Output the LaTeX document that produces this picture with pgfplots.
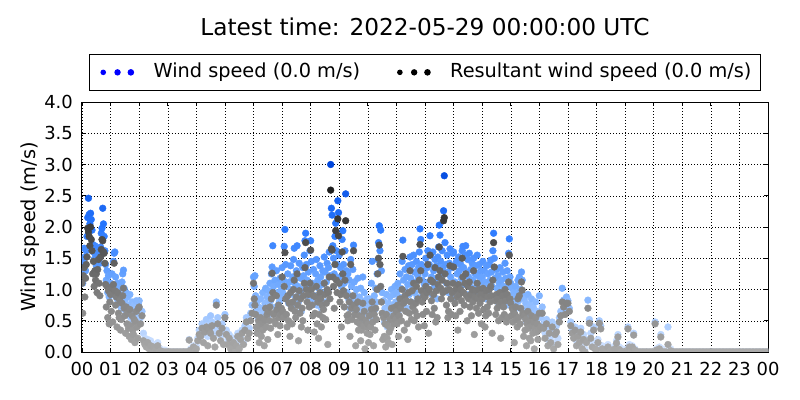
\documentclass[border=0pt]{standalone}
\usepackage{fontspec}
\setmainfont{DejaVu Sans}
\usepackage{pgfplots}
\usepackage{pgfplotstable}
\pgfplotsset{compat=1.18}
\pgfplotsset{
  colormap={wsblue}{rgb255=(215,230,255) rgb255=(120,175,255) rgb255=(40,120,255) rgb255=(0,70,220)},
  colormap={rwsgray}{rgb255=(170,170,170) rgb255=(122,122,122) rgb255=(62,62,62) rgb255=(10,10,10)},
}
\pgfplotstableread{
t ws rws
0.000 1.28 1.10
0.025 1.10 0.62
0.050 1.45 1.22
0.075 1.66 1.35
0.100 1.52 0.88
0.125 1.30 1.18
0.150 1.62 1.40
0.175 1.85 1.52
0.200 2.15 1.98
0.225 2.46 1.92
0.250 2.20 1.85
0.275 2.05 1.70
0.300 2.22 2.00
0.325 2.12 1.80
0.350 1.95 1.62
0.375 1.72 1.25
0.400 1.60 1.45
0.425 1.48 1.05
0.450 1.70 1.30
0.475 1.55 1.15
0.500 1.38 1.25
0.525 1.58 0.95
0.550 1.45 1.32
0.575 1.62 1.48
0.600 1.50 1.10
0.625 1.42 0.90
0.650 1.68 1.52
0.675 1.90 1.64
0.700 1.98 1.80
0.725 2.30 1.78
0.750 2.05 1.60
0.775 1.85 1.58
0.800 1.62 1.42
0.825 1.40 1.08
0.850 1.15 0.72
0.875 1.30 1.05
0.900 0.95 0.55
0.925 1.22 0.98
0.950 0.88 0.45
0.975 1.05 0.80
1.000 1.10 0.92
1.025 0.92 0.65
1.050 1.25 1.02
1.075 1.05 0.48
1.100 1.45 1.08
1.125 1.58 1.42
1.150 1.60 0.98
1.175 1.20 0.75
1.200 1.02 0.88
1.225 0.85 0.40
1.250 1.10 0.95
1.275 0.95 0.62
1.300 0.78 0.55
1.325 1.05 0.82
1.350 0.90 0.35
1.375 0.70 0.52
1.400 1.12 0.78
1.425 1.25 0.90
1.450 1.31 1.02
1.475 1.02 0.70
1.500 0.82 0.58
1.525 0.66 0.30
1.550 0.95 0.72
1.575 0.75 0.45
1.600 0.88 0.62
1.625 0.60 0.38
1.650 0.72 0.25
1.675 0.92 0.68
1.700 0.55 0.42
1.725 0.68 0.20
1.750 0.80 0.58
1.775 0.62 0.35
1.800 0.50 0.28
1.825 0.75 0.52
1.850 0.58 0.15
1.875 0.70 0.48
1.900 0.82 0.65
1.925 0.60 0.40
1.950 0.45 0.22
1.975 0.78 0.70
2.00 0.82 0.72
2.05 0.55 0.45
2.10 0.65 0.58
2.15 0.30 0.18
2.20 0.22 0.12
2.25 0.15 0.08
2.30 0.20 0.15
2.35 0.10 0.05
2.40 0.18 0.10
2.45 0.05 0.00
2.50 0.12 0.08
2.55 0.00 0.00
2.60 0.08 0.05
2.65 0.15 0.10
2.70 0.00 0.00
2.75 0.05 0.02
2.80 0.00 0.00
2.85 0.00 0.00
2.90 0.03 0.00
2.95 0.00 0.00
3.00 0.00 0.00
3.05 0.00 0.00
3.10 0.00 0.00
3.15 0.00 0.00
3.20 0.00 0.00
3.25 0.00 0.00
3.30 0.00 0.00
3.35 0.00 0.00
3.40 0.00 0.00
3.45 0.00 0.00
3.50 0.00 0.00
3.55 0.00 0.00
3.60 0.00 0.00
3.65 0.00 0.00
3.70 0.00 0.00
3.75 0.20 0.19
3.80 0.05 0.03
3.85 0.00 0.00
3.90 0.10 0.08
3.95 0.00 0.00
4.00 0.10 0.05
4.05 0.22 0.18
4.10 0.35 0.28
4.15 0.30 0.25
4.20 0.45 0.38
4.25 0.28 0.15
4.30 0.38 0.32
4.35 0.52 0.40
4.40 0.25 0.10
4.45 0.42 0.35
4.50 0.58 0.30
4.55 0.48 0.42
4.60 0.35 0.22
4.65 0.30 0.08
4.70 0.80 0.75
4.75 0.55 0.45
4.80 0.40 0.30
4.85 0.25 0.18
4.90 0.45 0.38
4.95 0.32 0.12
5.00 0.60 0.55
5.05 0.35 0.28
5.10 0.20 0.12
5.15 0.28 0.22
5.20 0.15 0.05
5.25 0.10 0.08
5.30 0.22 0.15
5.35 0.05 0.00
5.40 0.18 0.10
5.45 0.30 0.25
5.50 0.12 0.05
5.55 0.25 0.20
5.60 0.35 0.30
5.65 0.15 0.12
5.70 0.42 0.35
5.75 0.55 0.48
5.80 0.50 0.22
5.85 0.38 0.30
5.90 0.62 0.50
5.95 0.75 0.62
6.000 1.20 1.10
6.025 1.05 0.85
6.050 1.22 0.75
6.075 0.90 0.60
6.100 0.65 0.40
6.125 0.80 0.30
6.150 0.55 0.38
6.175 0.72 0.50
6.200 0.48 0.15
6.225 0.60 0.42
6.250 0.85 0.55
6.275 0.42 0.25
6.300 0.70 0.45
6.325 0.95 0.35
6.350 0.62 0.48
6.375 0.50 0.10
6.400 0.78 0.52
6.425 1.02 0.70
6.450 0.68 0.40
6.475 0.88 0.60
6.500 0.55 0.20
6.525 0.98 0.65
6.550 0.75 0.50
6.575 1.10 0.72
6.600 0.82 0.38
6.625 1.25 0.85
6.650 1.36 1.26
6.675 1.70 0.95
6.700 1.05 0.60
6.725 0.90 0.62
6.750 1.15 0.50
6.775 0.72 0.45
6.800 1.30 0.90
6.825 0.95 0.68
6.850 0.60 0.28
6.875 1.08 0.75
6.900 0.80 0.55
6.925 1.18 0.42
6.950 0.88 0.60
6.975 1.00 0.70
7.000 1.35 1.20
7.025 0.95 0.65
7.050 1.15 0.55
7.075 1.69 1.05
7.100 1.96 1.59
7.125 1.40 0.85
7.150 0.85 0.60
7.175 1.05 0.40
7.200 1.25 0.90
7.225 0.78 0.50
7.250 1.12 0.78
7.275 0.92 0.25
7.300 1.38 0.95
7.325 1.00 0.70
7.350 0.72 0.45
7.375 1.20 0.80
7.400 1.48 1.00
7.425 1.66 1.15
7.450 1.10 0.65
7.475 0.88 0.55
7.500 1.30 0.88
7.525 1.70 1.25
7.550 1.05 0.75
7.575 0.80 0.18
7.600 1.42 0.98
7.625 0.95 0.62
7.650 1.18 0.85
7.675 0.65 0.40
7.700 1.00 0.70
7.725 1.35 0.50
7.750 1.22 0.90
7.775 1.55 1.10
7.800 1.78 1.35
7.825 1.90 1.75
7.850 1.40 1.00
7.875 1.15 0.80
7.900 0.90 0.35
7.925 1.28 0.92
7.950 1.05 0.72
7.975 1.62 1.10
8.000 1.78 1.63
8.025 1.45 1.00
8.050 1.10 0.75
8.075 0.85 0.58
8.100 1.32 0.90
8.125 1.05 0.32
8.150 0.90 0.62
8.175 1.25 0.88
8.200 1.48 1.05
8.225 0.75 0.45
8.250 1.15 0.80
8.275 1.02 0.22
8.300 0.88 0.60
8.325 1.38 0.95
8.350 1.20 0.85
8.375 0.70 0.40
8.400 1.08 0.75
8.425 1.30 0.55
8.450 0.95 0.68
8.475 1.52 1.10
8.500 1.28 0.92
8.525 0.80 0.52
8.550 1.12 0.78
8.575 1.42 1.00
8.600 0.98 0.12
8.625 1.35 0.95
8.650 1.60 1.20
8.675 1.22 0.85
8.700 3.00 2.59
8.725 2.30 1.65
8.750 2.19 1.63
8.775 1.70 1.20
8.800 1.50 1.05
8.825 1.25 0.70
8.850 1.85 1.40
8.875 2.06 1.94
8.900 1.62 1.15
8.925 1.40 0.95
8.950 2.42 2.13
8.975 2.23 1.86
9.000 1.55 1.10
9.025 1.20 0.80
9.050 1.35 0.92
9.075 1.05 0.40
9.100 1.80 1.60
9.125 1.94 1.25
9.150 1.40 0.98
9.175 1.10 0.72
9.200 1.62 1.15
9.225 2.53 2.10
9.250 1.30 0.90
9.275 0.95 0.58
9.300 1.25 0.50
9.325 0.85 0.60
9.350 1.15 0.80
9.375 0.70 0.25
9.400 1.48 1.40
9.425 1.05 0.70
9.450 0.80 0.52
9.475 1.32 0.90
9.500 1.71 1.62
9.525 1.12 0.75
9.550 0.90 0.60
9.575 0.65 0.10
9.600 1.00 0.68
9.625 0.75 0.48
9.650 1.18 0.80
9.675 0.60 0.35
9.700 0.88 0.58
9.725 0.72 0.45
9.750 1.02 0.18
9.775 0.55 0.35
9.800 0.82 0.55
9.825 1.20 0.78
9.850 0.68 0.42
9.875 0.95 0.65
9.900 0.50 0.05
9.925 0.78 0.50
9.950 0.62 0.40
9.975 0.85 0.30
10.000 0.70 0.45
10.025 0.55 0.15
10.050 0.85 0.58
10.075 0.45 0.28
10.100 0.62 0.40
10.125 1.10 0.68
10.150 1.45 0.80
10.175 0.75 0.48
10.200 0.52 0.10
10.225 0.90 0.60
10.250 0.68 0.35
10.275 1.02 0.70
10.300 0.80 0.52
10.325 1.25 1.00
10.350 1.48 1.25
10.375 1.75 1.50
10.400 2.02 1.71
10.425 1.62 1.40
10.450 1.95 1.05
10.475 1.30 0.80
10.500 0.95 0.62
10.525 0.60 0.20
10.550 0.82 0.55
10.575 0.48 0.25
10.600 0.70 0.45
10.625 0.58 0.08
10.650 0.92 0.60
10.675 0.40 0.22
10.700 0.65 0.42
10.725 0.78 0.15
10.750 0.50 0.32
10.775 0.88 0.52
10.800 0.62 0.38
10.825 1.00 0.70
10.850 0.55 0.12
10.875 0.75 0.50
10.900 0.92 0.58
10.925 0.68 0.45
10.950 1.05 0.72
10.975 0.80 0.52
11.000 0.95 0.65
11.025 0.72 0.45
11.050 1.10 0.75
11.075 0.60 0.25
11.100 0.88 0.58
11.125 1.25 0.85
11.150 1.02 0.70
11.175 0.78 0.50
11.200 1.45 1.00
11.225 1.79 1.53
11.250 1.15 0.78
11.275 0.85 0.35
11.300 1.32 0.90
11.325 0.98 0.65
11.350 1.20 0.82
11.375 0.70 0.45
11.400 1.08 0.20
11.425 1.38 0.95
11.450 0.92 0.62
11.475 1.52 1.30
11.500 1.18 0.80
11.525 0.80 0.52
11.550 1.40 0.98
11.575 1.05 0.72
11.600 1.55 1.10
11.625 1.28 0.50
11.650 0.95 0.65
11.675 1.12 0.78
11.700 1.45 1.05
11.725 0.88 0.58
11.750 1.22 0.85
11.775 1.35 0.40
11.800 1.60 1.15
11.825 1.97 1.72
11.850 1.80 1.30
11.875 1.40 0.98
11.900 1.15 0.80
11.925 0.90 0.60
11.950 1.30 0.90
11.975 1.08 0.42
12.000 1.25 0.88
12.025 1.50 1.05
12.050 0.98 0.65
12.075 1.35 0.95
12.100 1.62 1.40
12.125 1.12 0.30
12.150 1.40 1.00
12.175 1.86 1.55
12.200 1.55 1.15
12.225 1.20 0.82
12.250 0.92 0.60
12.275 1.60 1.12
12.300 1.30 0.92
12.325 1.05 0.70
12.350 1.48 1.35
12.375 1.18 0.48
12.400 1.38 0.98
12.425 0.85 0.55
12.450 1.52 1.08
12.475 1.68 1.20
12.500 2.03 1.68
12.525 1.87 1.30
12.550 1.45 1.02
12.575 1.22 0.85
12.600 1.62 1.15
12.625 1.35 0.95
12.650 2.26 2.10
12.675 2.82 2.15
12.700 1.75 1.25
12.725 1.40 0.98
12.750 1.10 0.75
12.775 1.55 1.10
12.800 1.28 0.55
12.825 0.95 0.65
12.850 1.42 1.00
12.875 1.65 1.38
12.900 1.20 0.85
12.925 0.90 0.60
12.950 1.35 0.95
12.975 1.58 1.10
13.000 1.60 1.36
13.025 1.38 0.98
13.050 1.12 0.78
13.075 0.88 0.58
13.100 1.45 1.02
13.125 1.25 0.88
13.150 1.02 0.35
13.175 1.52 1.08
13.200 1.30 0.92
13.225 0.95 0.65
13.250 1.40 1.00
13.275 1.18 0.82
13.300 1.62 1.50
13.325 1.69 1.20
13.350 1.35 0.95
13.375 1.08 0.75
13.400 1.55 1.10
13.425 1.70 1.25
13.450 1.28 0.90
13.475 0.92 0.50
13.500 1.48 1.05
13.525 1.20 0.85
13.550 1.58 1.12
13.575 1.05 0.72
13.600 1.32 0.92
13.625 0.85 0.58
13.650 1.42 1.00
13.675 1.15 0.80
13.700 1.50 1.30
13.725 0.98 0.28
13.750 1.25 0.88
13.775 1.38 0.98
13.800 1.05 0.70
13.825 1.55 1.10
13.850 1.22 0.85
13.875 0.90 0.62
13.900 1.40 1.00
13.925 1.12 0.78
13.950 1.30 0.92
13.975 1.00 0.45
14.000 1.20 0.85
14.025 1.45 1.02
14.050 0.98 0.68
14.075 1.30 0.92
14.100 1.12 0.40
14.125 0.85 0.58
14.150 1.38 0.98
14.175 1.05 0.72
14.200 1.25 0.88
14.225 0.92 0.62
14.250 1.40 1.00
14.275 1.15 0.80
14.300 1.47 1.05
14.325 1.28 0.90
14.350 1.05 0.30
14.375 1.62 1.15
14.400 1.90 1.75
14.425 1.50 1.36
14.450 1.18 0.82
14.475 0.88 0.60
14.500 1.32 0.92
14.525 1.02 0.70
14.550 1.22 0.85
14.575 0.78 0.50
14.600 1.10 0.75
14.625 1.35 0.95
14.650 0.95 0.22
14.675 1.15 0.80
14.700 0.82 0.55
14.725 1.28 0.90
14.750 1.05 0.72
14.775 0.90 0.60
14.800 1.42 1.00
14.825 1.18 0.82
14.850 0.75 0.48
14.875 1.30 0.92
14.900 1.05 0.55
14.925 1.58 1.12
14.950 1.81 1.55
14.975 1.20 0.85
15.000 1.10 0.78
15.025 0.85 0.58
15.050 1.02 0.70
15.075 0.72 0.48
15.100 0.95 0.65
15.125 0.62 0.15
15.150 0.88 0.60
15.175 1.05 0.72
15.200 0.78 0.52
15.225 0.95 0.40
15.250 1.15 0.85
15.275 0.82 0.55
15.300 1.20 0.90
15.325 0.70 0.45
15.350 1.00 0.70
15.375 1.28 1.12
15.400 1.15 0.99
15.425 0.90 0.62
15.450 0.65 0.25
15.475 0.85 0.58
15.500 0.55 0.35
15.525 0.78 0.52
15.550 0.48 0.10
15.575 0.70 0.45
15.600 0.92 0.65
15.625 0.58 0.38
15.650 0.40 0.22
15.675 0.75 0.50
15.700 0.52 0.18
15.725 0.85 0.58
15.750 0.62 0.42
15.775 0.45 0.30
15.800 0.70 0.48
15.825 0.35 0.05
15.850 0.58 0.38
15.875 0.80 0.55
15.900 0.48 0.32
15.925 0.65 0.45
15.950 0.38 0.20
15.975 0.55 0.35
16.00 0.90 0.62
16.05 0.55 0.40
16.10 0.72 0.62
16.15 0.45 0.38
16.20 0.30 0.22
16.25 0.52 0.45
16.30 0.20 0.10
16.35 0.38 0.30
16.40 0.25 0.15
16.45 0.48 0.40
16.50 0.15 0.05
16.55 0.35 0.28
16.60 0.42 0.32
16.65 0.22 0.12
16.70 0.55 0.48
16.75 0.65 0.58
16.80 1.02 0.80
16.85 0.83 0.72
16.90 0.70 0.60
16.95 0.88 0.78
17.00 0.82 0.78
17.05 0.70 0.65
17.10 0.48 0.42
17.15 0.35 0.30
17.20 0.28 0.22
17.25 0.40 0.35
17.30 0.18 0.10
17.35 0.32 0.25
17.40 0.22 0.15
17.45 0.38 0.32
17.50 0.12 0.05
17.55 0.28 0.20
17.60 0.05 0.00
17.65 0.20 0.15
17.70 0.83 0.70
17.75 0.52 0.46
17.80 0.30 0.22
17.85 0.15 0.08
17.90 0.40 0.35
17.95 0.10 0.05
18.00 0.08 0.03
18.05 0.20 0.15
18.10 0.50 0.46
18.15 0.42 0.37
18.20 0.10 0.05
18.25 0.00 0.00
18.30 0.05 0.02
18.35 0.00 0.00
18.40 0.12 0.08
18.45 0.00 0.00
18.50 0.06 0.03
18.55 0.00 0.00
18.60 0.00 0.00
18.65 0.10 0.05
18.70 0.18 0.14
18.75 0.28 0.24
18.80 0.08 0.04
18.85 0.00 0.00
18.90 0.05 0.00
18.95 0.00 0.00
19.00 0.00 0.00
19.05 0.05 0.02
19.10 0.40 0.37
19.15 0.12 0.08
19.20 0.00 0.00
19.25 0.10 0.08
19.30 0.30 0.27
19.35 0.05 0.03
19.40 0.00 0.00
19.45 0.00 0.00
19.50 0.00 0.00
19.55 0.00 0.00
19.60 0.00 0.00
19.65 0.00 0.00
19.70 0.00 0.00
19.75 0.00 0.00
19.80 0.00 0.00
19.85 0.00 0.00
19.90 0.00 0.00
19.95 0.00 0.00
20.00 0.00 0.00
20.05 0.48 0.45
20.10 0.05 0.03
20.15 0.00 0.00
20.20 0.08 0.05
20.25 0.28 0.24
20.30 0.05 0.00
20.35 0.00 0.00
20.40 0.00 0.00
20.45 0.00 0.00
20.50 0.40 0.12
20.55 0.00 0.00
20.60 0.05 0.02
20.65 0.00 0.00
20.70 0.00 0.00
20.75 0.00 0.00
20.80 0.00 0.00
20.85 0.00 0.00
20.90 0.00 0.00
20.95 0.00 0.00
21.00 0.00 0.00
21.05 0.00 0.00
21.10 0.00 0.00
21.15 0.00 0.00
21.20 0.00 0.00
21.25 0.00 0.00
21.30 0.00 0.00
21.35 0.00 0.00
21.40 0.00 0.00
21.45 0.00 0.00
21.50 0.00 0.00
21.55 0.00 0.00
21.60 0.00 0.00
21.65 0.00 0.00
21.70 0.00 0.00
21.75 0.00 0.00
21.80 0.00 0.00
21.85 0.00 0.00
21.90 0.00 0.00
21.95 0.00 0.00
22.00 0.00 0.00
22.05 0.00 0.00
22.10 0.00 0.00
22.15 0.00 0.00
22.20 0.00 0.00
22.25 0.00 0.00
22.30 0.00 0.00
22.35 0.00 0.00
22.40 0.00 0.00
22.45 0.00 0.00
22.50 0.00 0.00
22.55 0.00 0.00
22.60 0.00 0.00
22.65 0.00 0.00
22.70 0.00 0.00
22.75 0.00 0.00
22.80 0.00 0.00
22.85 0.00 0.00
22.90 0.00 0.00
22.95 0.00 0.00
23.00 0.00 0.00
23.05 0.00 0.00
23.10 0.00 0.00
23.15 0.00 0.00
23.20 0.00 0.00
23.25 0.00 0.00
23.30 0.00 0.00
23.35 0.00 0.00
23.40 0.00 0.00
23.45 0.00 0.00
23.50 0.00 0.00
23.55 0.00 0.00
23.60 0.00 0.00
23.65 0.00 0.00
23.70 0.00 0.00
23.75 0.00 0.00
23.80 0.00 0.00
23.85 0.00 0.00
23.90 0.00 0.00
23.95 0.00 0.00
24.00 0.00 0.00
}\winddata

\begin{document}
\begin{tikzpicture}
\begin{axis}[
  at={(0,0)}, anchor=south west,
  scale only axis, width=686bp, height=250bp,
  xmin=0, xmax=24, ymin=0, ymax=4,
  xtick={0,1,...,24},
  xticklabels={00,01,02,03,04,05,06,07,08,09,10,11,12,13,14,15,16,17,18,19,20,21,22,23,00},
  ytick={0,0.5,1,1.5,2,2.5,3,3.5,4},
  tick label style={font=\fontsize{18}{21}\selectfont},
  xticklabel style={anchor=base, inner sep=0pt, yshift=-23bp},
  yticklabel style={anchor=east, inner sep=0pt, xshift=-9bp,
    /pgf/number format/fixed, /pgf/number format/fixed zerofill,
    /pgf/number format/precision=1, /pgf/number format/assume math mode=true},
  grid=major,
  major grid style={black, line width=0.5bp, dash pattern=on 1bp off 2bp},
  tick align=inside, major tick length=4bp,
  every tick/.style={black, line width=0.8bp},
  axis line style={line width=1bp},
  clip marker paths=true,
  point meta min=0, point meta max=3,
  title={Latest time: 2022-05-29 00:00:00 UTC},
  title style={at={(axis description cs:0.5,1.241)}, anchor=base, font=\fontsize{23.3}{26}\selectfont},
  ylabel={Wind speed (m/s)},
  ylabel style={at={(axis description cs:-0.0758,0.5)}, anchor=center, font=\fontsize{19.4}{22}\selectfont},
  legend columns=2,
  legend style={at={(axis description cs:0.5,1)}, anchor=south, yshift=11.3bp,
    draw=black, line width=1bp, inner xsep=6bp, inner ysep=8.6bp,
    font=\fontsize{19.4}{22}\selectfont,
    nodes={inner sep=0pt, text height=14.5bp, text depth=4bp},
    /tikz/every even column/.append style={column sep=32bp}},
]
\addplot[scatter, only marks, mark=*, mark size=3.4bp, colormap name=wsblue, point meta=y,
  scatter/use mapped color={draw=mapped color, fill=mapped color},
  legend image code/.code={
    \path[draw=none, fill=none] (0bp,-9bp) rectangle (58bp,9bp);
    \fill[blue, draw=none] (7.7bp,0bp) circle (2.8bp);
    \fill[blue, draw=none] (22bp,0bp) circle (3.2bp);
    \fill[blue, draw=none] (35.3bp,0bp) circle (3.3bp);
  }] table[x=t, y=ws] {\winddata};
\addlegendentry{Wind speed (0.0 m/s)}
\addplot[scatter, only marks, mark=*, mark size=3.4bp, colormap name=rwsgray, point meta=y,
  scatter/use mapped color={draw=mapped color, fill=mapped color},
  legend image code/.code={
    \path[draw=none, fill=none] (0bp,-9bp) rectangle (58bp,9bp);
    \fill[black, draw=none] (7.7bp,0bp) circle (2.8bp);
    \fill[black, draw=none] (22bp,0bp) circle (3.2bp);
    \fill[black, draw=none] (35.3bp,0bp) circle (3.3bp);
  }] table[x=t, y=rws] {\winddata};
\addlegendentry{Resultant wind speed (0.0 m/s)\hspace*{3bp}}
\end{axis}
\pgfresetboundingbox
\path[use as bounding box] (-82bp,-48bp) rectangle (718bp,352bp);
\end{tikzpicture}
\end{document}
